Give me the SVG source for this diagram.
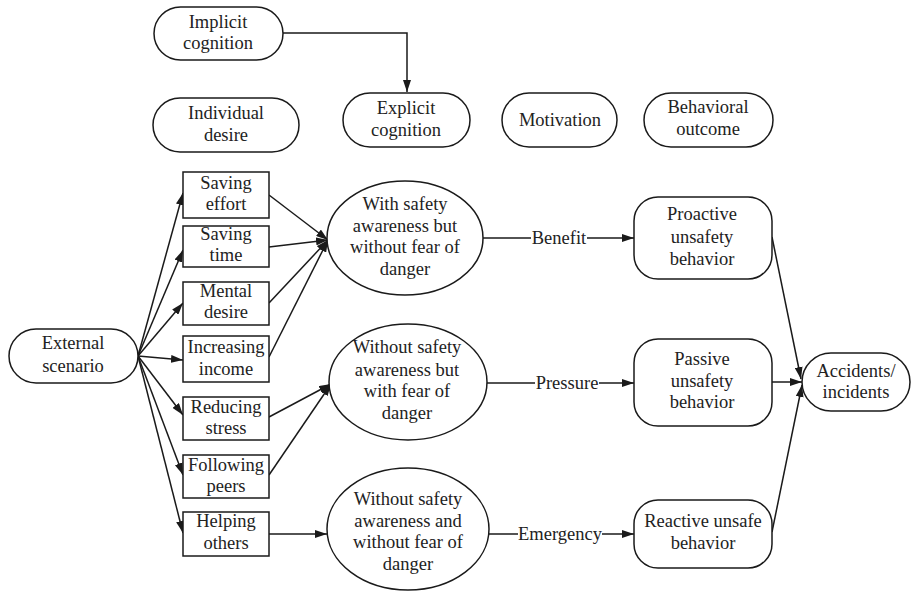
<svg xmlns="http://www.w3.org/2000/svg" width="911" height="596" viewBox="0 0 911 596">
<defs>
<marker id="ah" viewBox="0 0 12 8" refX="12" refY="4" markerWidth="12" markerHeight="8" markerUnits="userSpaceOnUse" orient="auto">
<path d="M0,0 L12,4 L0,8 Z" fill="#1a1a1a"/>
</marker>
</defs>
<style>
text{font-family:"Liberation Serif","Times New Roman",serif;font-size:18.5px;fill:#222;text-anchor:middle}
.n{fill:#fff;stroke:#1a1a1a;stroke-width:1.5}
.c line,.c path{stroke:#1a1a1a;stroke-width:1.5;fill:none}
</style>
<rect width="911" height="596" fill="#fff"/>
<g class="c" id="connectors">
<path d="M283,33 H407 V92" marker-end="url(#ah)"/>
<line x1="138" y1="356" x2="183" y2="193" marker-end="url(#ah)"/>
<line x1="138" y1="356" x2="183" y2="250" marker-end="url(#ah)"/>
<line x1="138" y1="356" x2="183" y2="303" marker-end="url(#ah)"/>
<line x1="138" y1="356" x2="183" y2="360" marker-end="url(#ah)"/>
<line x1="138" y1="356" x2="183" y2="415" marker-end="url(#ah)"/>
<line x1="138" y1="356" x2="183" y2="475" marker-end="url(#ah)"/>
<line x1="138" y1="356" x2="183" y2="533" marker-end="url(#ah)"/>
<line x1="269" y1="195" x2="328" y2="240" marker-end="url(#ah)"/>
<line x1="269" y1="247" x2="328" y2="240" marker-end="url(#ah)"/>
<line x1="269" y1="303" x2="328" y2="240" marker-end="url(#ah)"/>
<line x1="269" y1="357" x2="328" y2="240" marker-end="url(#ah)"/>
<line x1="269" y1="417" x2="331" y2="384" marker-end="url(#ah)"/>
<line x1="269" y1="475" x2="331" y2="384" marker-end="url(#ah)"/>
<line x1="269" y1="534" x2="327" y2="534" marker-end="url(#ah)"/>
<line x1="483" y1="238" x2="531" y2="238"/>
<line x1="587" y1="238" x2="634" y2="238" marker-end="url(#ah)"/>
<line x1="487" y1="383" x2="535" y2="383"/>
<line x1="599" y1="383" x2="634" y2="383" marker-end="url(#ah)"/>
<line x1="489" y1="534" x2="518" y2="534"/>
<line x1="602" y1="534" x2="634" y2="534" marker-end="url(#ah)"/>
<line x1="772" y1="237" x2="801" y2="379" marker-end="url(#ah)"/>
<line x1="772" y1="382" x2="802" y2="382" marker-end="url(#ah)"/>
<line x1="772" y1="532" x2="802" y2="385" marker-end="url(#ah)"/>
<text x="559" y="244">Benefit</text>
<text x="567" y="389">Pressure</text>
<text x="560" y="540">Emergency</text>
</g>
<g id="implicit"><rect class="n" x="154" y="7" width="129" height="53" rx="26.5"/><text x="218" y="28">Implicit</text><text x="218" y="49">cognition</text></g>
<g id="individual"><rect class="n" x="153" y="98" width="146" height="54" rx="27"/><text x="226" y="119">Individual</text><text x="226" y="141">desire</text></g>
<g id="explicit"><rect class="n" x="343" y="93" width="127" height="54" rx="27"/><text x="406" y="114">Explicit</text><text x="406" y="136">cognition</text></g>
<g id="motivation"><rect class="n" x="502" y="93" width="115" height="54" rx="27"/><text x="560" y="126">Motivation</text></g>
<g id="outcome"><rect class="n" x="644" y="93" width="129" height="54" rx="27"/><text x="708" y="113">Behavioral</text><text x="708" y="135">outcome</text></g>
<g id="external"><rect class="n" x="9" y="329" width="129" height="54" rx="27"/><text x="73" y="349">External</text><text x="73" y="372">scenario</text></g>
<g id="b1"><rect class="n" x="183" y="172" width="86" height="46"/><text x="226" y="189">Saving</text><text x="226" y="210">effort</text></g>
<g id="b2"><rect class="n" x="183" y="226" width="86" height="41"/><text x="226" y="240">Saving</text><text x="226" y="261">time</text></g>
<g id="b3"><rect class="n" x="183" y="282" width="86" height="43"/><text x="226" y="297">Mental</text><text x="226" y="318">desire</text></g>
<g id="b4"><rect class="n" x="183" y="336" width="86" height="46"/><text x="226" y="353">Increasing</text><text x="226" y="375">income</text></g>
<g id="b5"><rect class="n" x="183" y="397" width="86" height="43"/><text x="226" y="413">Reducing</text><text x="226" y="434">stress</text></g>
<g id="b6"><rect class="n" x="183" y="455" width="86" height="43"/><text x="226" y="471">Following</text><text x="226" y="492">peers</text></g>
<g id="b7"><rect class="n" x="183" y="512" width="86" height="44"/><text x="226" y="527">Helping</text><text x="226" y="549">others</text></g>
<g id="e1"><ellipse class="n" cx="405" cy="238" rx="78" ry="57"/><text x="405" y="210">With safety</text><text x="405" y="232">awareness but</text><text x="405" y="253">without fear of</text><text x="405" y="275">danger</text></g>
<g id="e2"><ellipse class="n" cx="408" cy="382" rx="79" ry="58"/><text x="407" y="353">Without safety</text><text x="407" y="376">awareness but</text><text x="407" y="397">with fear of</text><text x="407" y="419">danger</text></g>
<g id="e3"><ellipse class="n" cx="408" cy="529" rx="81" ry="61"/><text x="408" y="505">Without safety</text><text x="408" y="527">awareness and</text><text x="408" y="548">without fear of</text><text x="408" y="570">danger</text></g>
<g id="proactive"><rect class="n" x="634" y="197" width="138" height="82" rx="24"/><text x="702" y="220">Proactive</text><text x="702" y="243">unsafety</text><text x="702" y="265">behavior</text></g>
<g id="passive"><rect class="n" x="634" y="339" width="138" height="87" rx="24"/><text x="702" y="365">Passive</text><text x="702" y="387">unsafety</text><text x="702" y="408">behavior</text></g>
<g id="reactive"><rect class="n" x="634" y="500" width="138" height="68" rx="24"/><text x="703" y="527">Reactive unsafe</text><text x="703" y="549">behavior</text></g>
<g id="accidents"><rect class="n" x="802" y="353" width="108" height="58" rx="29"/><text x="856" y="377">Accidents/</text><text x="856" y="398">incidents</text></g>
</svg>
